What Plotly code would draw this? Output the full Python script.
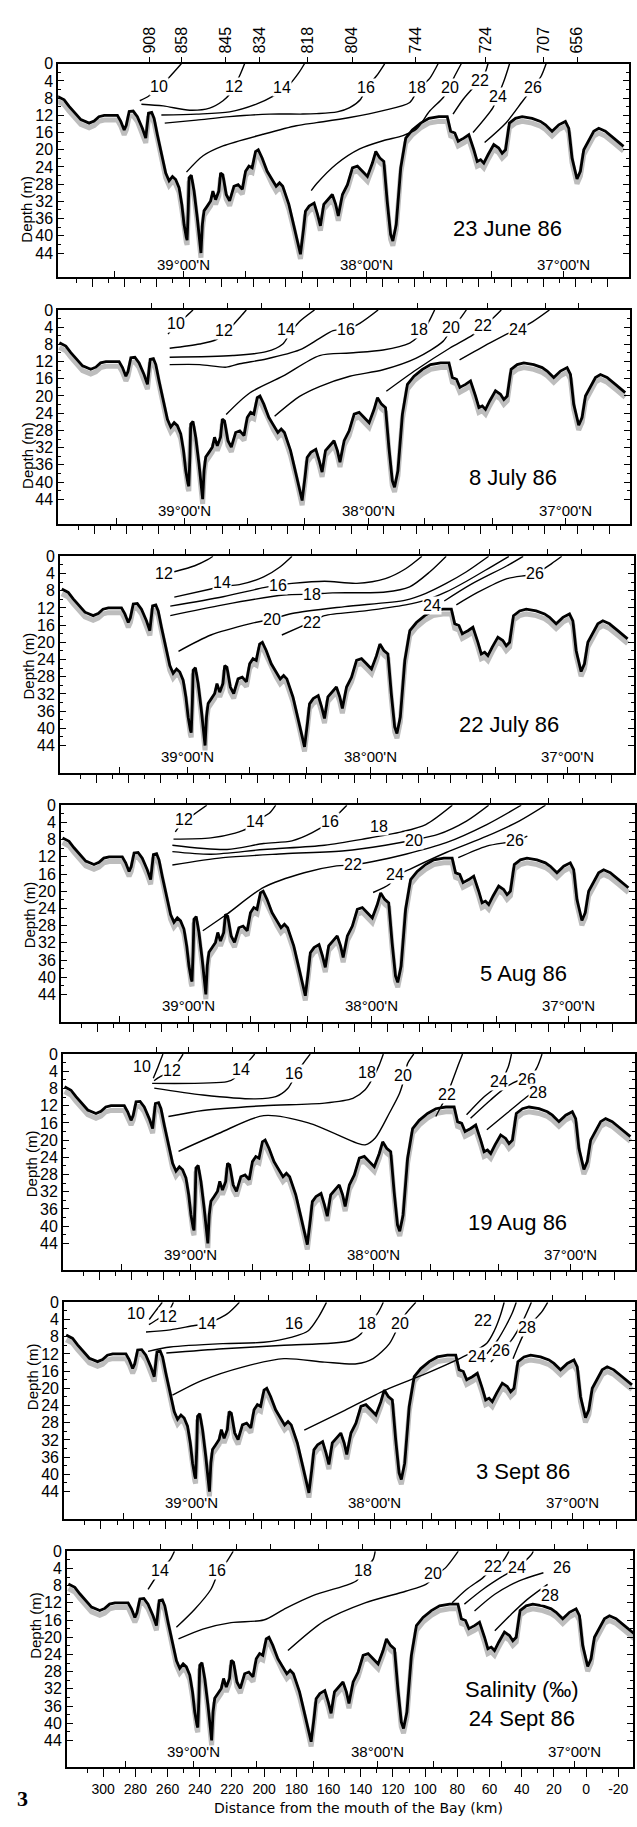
import plotly.graph_objects as go

W, H = 637, 1827

# ---------------- data ----------------
# channel-bottom profile: (distance from mouth km, depth m)
BATHY_PROFILE = [
    (321.6, 7.6), (317.6, 8.4), (314.5, 9.9), (309.3, 12.3), (307.2, 13.0), (302.1, 13.8),
    (299.0, 13.3), (296.0, 12.3), (292.7, 12.0), (284.5, 12.0), (282.4, 13.4), (280.3, 15.4),
    (279.0, 14.3), (277.2, 11.1), (274.7, 11.0), (272.1, 12.3), (269.0, 15.0), (266.9, 17.3),
    (265.2, 11.5), (263.2, 11.3), (261.7, 12.7), (259.7, 16.5), (256.6, 21.9), (254.5, 25.4),
    (252.4, 27.2), (250.3, 26.2), (248.3, 26.9), (246.2, 28.8), (244.5, 32.7), (243.1, 37.4),
    (241.7, 40.4), (241.2, 41.0), (240.5, 34.0), (240.0, 26.5), (238.6, 25.9), (236.9, 29.6),
    (234.9, 35.8), (233.2, 42.0), (232.6, 44.0), (231.7, 37.3), (230.7, 34.2), (228.7, 33.1),
    (226.6, 31.9), (225.2, 29.6), (223.5, 31.6), (221.5, 29.6), (220.4, 25.4), (219.0, 25.8),
    (216.9, 30.4), (214.8, 31.9), (212.1, 28.5), (209.5, 28.1), (206.9, 29.2), (204.9, 25.0),
    (202.8, 23.8), (200.8, 24.2), (198.7, 20.4), (197.0, 20.0), (194.6, 21.9), (191.5, 25.0),
    (188.4, 26.9), (185.9, 28.5), (183.8, 27.7), (181.8, 28.5), (178.0, 32.7), (174.9, 37.4),
    (171.8, 42.7), (170.8, 44.3), (168.9, 38.5), (167.7, 34.3), (165.4, 33.1), (162.3, 32.4),
    (160.2, 35.0), (158.4, 37.7), (156.3, 32.7), (153.0, 31.2), (151.0, 30.4), (148.9, 32.7),
    (147.3, 35.4), (144.7, 30.4), (141.6, 28.1), (138.5, 24.2), (135.4, 23.8), (132.3, 25.0),
    (129.2, 26.2), (126.1, 23.1), (124.0, 20.4), (121.5, 21.9), (119.0, 22.7), (116.9, 32.0),
    (114.8, 39.7), (113.4, 41.2), (111.3, 37.4), (108.5, 24.2), (105.4, 17.3), (101.3, 15.4),
    (96.1, 13.8), (91.0, 12.7), (84.8, 12.3), (79.6, 12.3), (77.5, 15.7), (74.9, 16.1),
    (72.8, 18.0), (69.3, 17.3), (66.2, 16.5), (63.1, 20.0), (61.0, 22.7), (58.9, 22.3),
    (56.9, 23.1), (54.2, 21.1), (50.7, 18.8), (47.6, 19.6), (45.5, 20.8), (43.4, 20.0),
    (41.0, 13.8), (37.2, 12.7), (33.1, 12.3), (26.9, 12.7), (21.7, 13.4), (18.6, 14.2),
    (14.5, 15.7), (10.3, 14.2), (6.2, 13.4), (4.1, 15.0), (2.1, 21.9), (-1.0, 26.8),
    (-3.1, 25.0), (-5.2, 20.0), (-8.3, 17.7), (-11.4, 15.7), (-14.5, 15.0), (-18.6, 15.7),
    (-23.8, 17.3), (-29.9, 19.2),
]

STATION_KM = [264.4, 244.7, 217.3, 196.2, 166.4, 138.7, 99.4, 55.8, 19.6, -1.1]
STATION_LABELS = ["908", "858", "845", "834", "818", "804", "744", "724", "707", "656"]

LATITUDE_TICK_KM = [286.0, 243.6, 205.0, 169.5, 129.8, 94.5, 52.3, 7.3]
LATITUDE_LABEL_KM = [243.6, 129.8, 7.3]
LATITUDE_LABELS = ["39°00'N", "38°00'N", "37°00'N"]

DISTANCE_TICKS = [300, 280, 260, 240, 220, 200, 180, 160, 140, 120, 100, 80, 60, 40, 20, 0, -20]
DISTANCE_TICK_TEXT = ["300", "280", "260", "240", "220", "200", "180", "160", "140", "120",
                      "100", "80", "60", "40", "20", "0", "-20"]
DISTANCE_MINOR = [310, 290, 270, 250, 230, 210, 190, 170, 150, 130, 110, 90, 70, 50, 30, 10, -10]
DEPTH_TICKS = [0, 4, 8, 12, 16, 20, 24, 28, 32, 36, 40, 44]
DEPTH_MINOR = [2, 6, 10, 14, 18, 22, 26, 30, 34, 38, 42]

SURVEY_TITLES = ["23 June 86", "8 July 86", "22 July 86", "5 Aug 86", "19 Aug 86",
                 "3 Sept 86", "Salinity (‰)<br>24 Sept 86"]

# isohalines per survey: (salinity, [(km, depth), ...])
JUNE23 = [
    (10, [(270.6, 8.6), (265, 7.5), (258.6, 5.4), (252, 3.0), (244.8, 0)]),
    (12, [(269.6, 9.4), (256.1, 9.8), (239.6, 10.8), (227.2, 10.3), (218.9, 8.6), (214.8, 7.1),
          (212.3, 5.4), (208.6, 2.8), (205.5, 0)]),
    (14, [(257.2, 11.9), (235.4, 11.7), (214.8, 11.2), (198.2, 9.4), (188, 7.6), (182, 6.0),
          (177.6, 4.8), (172, 2.2), (168.3, 0)]),
    (16, [(255.1, 13.8), (235.4, 13.1), (214.8, 12.3), (190, 11.7), (169.3, 11.7), (160.8, 11.6),
          (148, 11.2), (140.2, 10.2), (133.5, 8.3), (129.8, 5.6), (123.5, 2.8), (118.5, 0)]),
    (18, [(241.6, 25.2), (231.3, 21.4), (218.9, 19.1), (194.1, 16.4), (173.4, 14.4), (160.8, 13.7),
          (140.2, 12.5), (119.5, 10.9), (102.9, 9.0), (98.5, 6.5), (94.5, 4.8), (90.5, 3.4), (85.3, 0)]),
    (20, [(164.1, 29.5), (160.8, 27.9), (148.4, 23.3), (134, 19.8), (119.5, 17.9), (107.1, 16.7),
          (98.8, 15.2), (90.5, 11.0), (82.2, 7.9), (78.1, 5.6), (75.7, 3.4), (70.9, 0)]),
    (22, [(76.0, 11.7), (69.8, 8.3), (64.5, 6.0), (59.5, 4.0), (56, 2.0), (54.3, 0)]),
    (24, [(63.6, 16.0), (51.2, 10.2), (48.1, 7.5), (44.0, 3.6), (40.9, 0)]),
    (26, [(56.4, 18.3), (43.0, 13.7), (32.6, 8.6), (26.4, 5.6), (21.3, 2.9), (18.2, 0)]),
]
JULY8 = [
    (10, [(254.1, 5.6), (249, 3.3), (243, 1.5), (238.6, 0)]),
    (12, [(253.1, 8.9), (234.4, 7.9), (224.1, 6.9), (219, 5.3), (213.8, 3.5), (209, 1.5), (205.5, 0)]),
    (14, [(253.1, 11.0), (213.8, 10.6), (193.1, 9.7), (182.8, 7.9), (178.5, 5.5), (172.4, 2.7), (163.1, 0)]),
    (16, [(253.1, 12.7), (234.4, 12.7), (217.9, 13.3), (209.6, 12.5), (193.1, 11.4), (172.4, 9.3),
          (160, 6.6), (151.5, 4.8), (143.3, 4.5), (135, 3.1), (123.6, 0)]),
    (18, [(218, 24.3), (203.4, 19.3), (182.8, 15.4), (160, 10.6), (141.2, 10.0), (120.5, 9.3),
          (104, 7.7), (99, 6.3), (95, 4.5), (91.5, 2.3), (88.5, 0)]),
    (20, [(187.9, 24.7), (172.4, 20.1), (160, 17.8), (141.2, 15.4), (120.5, 13.9), (99.9, 11.2),
          (83.3, 7.3), (78.1, 4.5), (73, 2.2), (68.8, 0)]),
    (22, [(118.5, 18.9), (99.9, 13.9), (79.2, 8.9), (64.7, 5.8), (58.5, 3.8), (52, 1.8), (47.1, 0)]),
    (24, [(73, 11.6), (54.4, 7.7), (42, 5.3), (36.8, 4.6), (27.5, 2.7), (17.2, 0)]),
]
JULY22 = [
    (12, [(251.7, 3.6), (239, 2.2), (231, 0.8), (227.7, 0)]),
    (14, [(251.7, 9.5), (229, 7.6), (222, 7.0), (211.3, 6.6), (196.2, 4.8), (186.1, 2.5), (178.6, 0)]),
    (16, [(254.2, 11.6), (221.4, 9.4), (196.2, 7.3), (187.4, 6.7), (178.6, 6.3), (158.4, 5.8),
          (138.3, 6.3), (120.6, 5.2), (108, 2.9), (97.9, 0)]),
    (18, [(254.2, 13.8), (221.4, 11.3), (183.6, 9.0), (166, 8.8), (153.4, 8.5), (120.6, 8.3),
          (105.5, 7.1), (92.9, 3.6), (82.8, 0)]),
    (20, [(249.1, 22.1), (229, 18.3), (203.8, 15.6), (191.2, 14.6), (178.6, 13.3), (145.8, 11.7),
          (108, 10.2), (95.4, 8.6), (82.8, 6.3), (70.2, 3.6), (56.4, 0)]),
    (22, [(184.9, 18.3), (173.5, 16.4), (166, 15.2), (158.4, 13.8), (133.2, 12.7), (108, 11.3),
          (95.4, 10.2), (82.8, 8.3), (70.2, 5.8), (55.1, 2.5), (43.8, 0)]),
    (24, [(84, 10.4), (67.7, 6.6), (45, 2.2), (35, 0)]),
    (26, [(76.5, 11.3), (62.7, 8.3), (45, 5.2), (27.4, 4.0), (17.3, 1.7), (11, 0)]),
]
AUG5 = [
    (12, [(251.6, 6.2), (245.9, 3.5), (239.6, 2.0), (232, 0)]),
    (14, [(252.7, 7.9), (229.5, 7.6), (214.4, 6.5), (206.8, 5.4), (201.8, 3.7), (193, 1.8), (189.2, 0)]),
    (16, [(253.4, 9.3), (219.4, 10.3), (196.7, 8.9), (179.1, 8.3), (166.5, 6.4), (155.2, 3.7), (145, 0)]),
    (18, [(253.4, 10.8), (229.5, 11.4), (196.7, 10.3), (158.9, 9.3), (133.7, 7.8), (111.1, 6.2),
          (96, 4.5), (79.5, 0)]),
    (20, [(253.4, 13.9), (221.9, 12.2), (184.1, 11.3), (146.3, 10.6), (121.1, 9.3), (103.5, 8.1),
          (88.4, 6.8), (70.7, 3.7), (56.9, 0)]),
    (22, [(234.5, 29.2), (219.4, 25.3), (196.7, 19.1), (171.5, 15.7), (151.4, 14.1), (141.3, 13.9),
          (128.7, 13.1), (108.5, 11.4), (83.3, 8.7), (58.1, 4.5), (36.7, 0)]),
    (24, [(128.7, 20.3), (118.6, 18.4), (114.8, 16.5), (106, 14.9), (83.3, 11.0), (58.1, 7.2),
          (38, 3.7), (21.6, 0)]),
    (26, [(75.8, 12.2), (58.1, 9.5), (40.5, 8.3), (32.9, 7.2)]),
]
AUG19 = [
    (10, [(266.5, 5.6), (263.4, 2.8), (260.5, 0)]),
    (12, [(266, 6.2), (262, 5.2), (258.5, 4.5), (254.6, 3.6), (250.5, 1.5), (248, 0)]),
    (14, [(267.2, 6.8), (220.6, 6.4), (216.1, 5.6), (213, 3.5), (206.7, 1.4), (203.5, 0)]),
    (16, [(265.9, 7.9), (235.7, 9.5), (203, 10.4), (190.4, 9.9), (183, 8.0), (178.5, 5.2), (174, 2.5), (169, 0)]),
    (18, [(257.1, 14.5), (235.7, 13.1), (197.9, 12.0), (160.1, 11.4), (142.5, 10.3), (134.9, 8.3),
          (130, 5.5), (126.1, 2.5), (123.6, 0)]),
    (20, [(250.8, 22.6), (225.6, 18.4), (197.9, 14.3), (170.2, 16.0), (140, 20.7), (134.9, 21.1),
          (128.6, 19.5), (119.8, 13.7), (113.5, 9.1), (110.5, 5.5), (108.5, 2.2), (104.7, 0)]),
    (22, [(91, 14.5), (87.5, 12.0), (84, 9.5), (80.5, 6.0), (77, 2.5), (74.4, 0)]),
    (24, [(71.9, 14.1), (61.8, 10.2), (54.3, 7.9), (50.5, 6.4), (46, 3.0), (44, 0)]),
    (26, [(69.4, 14.9), (56.8, 10.6), (46.7, 7.5), (40, 6.2), (33, 5.8), (28, 3.0), (25, 0)]),
    (28, [(59.3, 17.6), (46.7, 13.7), (36.7, 10.6), (31, 9.0)]),
]
SEPT3 = [
    (10, [(270, 4.0), (266, 2.0), (261.9, 0)]),
    (12, [(270.2, 5.2), (265, 4.0), (260, 2.8), (257, 1.5), (255, 0)]),
    (14, [(272, 6.9), (256.9, 6.4), (241.8, 5.4), (234.2, 5.0), (221.6, 2.7), (214, 0)]),
    (16, [(270.7, 11.4), (256.9, 10.4), (224.1, 9.6), (198.9, 9.3), (181.3, 8.1), (171.2, 6.6),
          (165, 3.5), (159.9, 0)]),
    (18, [(259.4, 11.8), (224.1, 10.8), (186.3, 10.0), (146, 9.0), (138.4, 7.3), (134.7, 5.0),
          (128.4, 2.7), (124.6, 0)]),
    (20, [(255.6, 21.6), (236.7, 18.1), (211.5, 15.0), (186.3, 13.1), (161.1, 13.9), (141, 14.3),
          (130.9, 13.1), (120.8, 9.6), (114.5, 5.0), (110.7, 2.7), (104.4, 0)]),
    (22, [(173.7, 29.7), (148.5, 25.1), (123.3, 20.4), (98.1, 16.6), (72.9, 12.3), (60.3, 9.5),
          (55.5, 6.5), (52, 3.2), (49.5, 0)]),
    (24, [(60.3, 12.0), (54, 9.0), (48.5, 5.5), (44.5, 2.5), (42, 0)]),
    (26, [(57.8, 13.9), (51.5, 11.2), (45.2, 8.9), (37.7, 4.2), (32.6, 0)]),
    (28, [(44, 13.1), (40, 9.5), (35.1, 5.8), (30, 3.8), (26.3, 2.3), (22.5, 0)]),
]
SEPT24 = [
    (14, [(272.1, 8.9), (264.6, 4.6), (258.3, 1.9), (255.7, 0)]),
    (16, [(254.5, 17.7), (243.1, 13.5), (233.1, 8.9), (228, 4.6), (223, 2.3), (219.2, 0)]),
    (18, [(253.2, 20.4), (238.1, 18.1), (220.5, 16.6), (200.3, 16.0), (187.7, 13.5), (170.1, 10.4),
          (147.4, 7.7), (142.4, 6.8), (138.6, 4.6), (132.3, 1.9), (131, 0)]),
    (20, [(185.2, 23.1), (162.5, 16.2), (137.3, 12.0), (112.1, 9.3), (99.5, 7.7), (93, 5.5),
          (86.9, 3.7), (79.4, 0)]),
    (22, [(83.2, 12), (74.3, 8.9), (64.2, 6.2), (58, 4.0), (51.7, 2.3), (47.9, 0)]),
    (24, [(75.6, 12.3), (64.2, 8.9), (51.7, 5.8), (42.8, 3.9), (34, 0.8), (32.8, 0)]),
    (26, [(69.3, 13.9), (56.7, 10.0), (41.6, 6.9), (26.5, 5.0)]),
    (28, [(56.7, 18.5), (46.6, 14.7), (36.5, 11.2), (23.9, 7.7)]),
]
SURVEYS = [JUNE23, JULY8, JULY22, AUG5, AUG19, SEPT3, SEPT24]

# ---------------- layout / placement (not data) ----------------
LABEL_AT = [
    {10: (258.6, 5.4), 12: (212.3, 5.4), 14: (182.5, 5.6), 16: (130, 5.6), 18: (98.5, 5.6),
     20: (78.1, 5.6), 22: (59.5, 4.0), 24: (48.1, 7.5), 26: (26.4, 5.6)},
    {10: (248.9, 3.1), 12: (219.5, 4.8), 14: (180.7, 4.5), 16: (143.3, 4.5), 18: (98.5, 4.5),
     20: (78.3, 4.0), 22: (58.5, 3.5), 24: (36.8, 4.6)},
    {12: (258, 4.0), 14: (222, 6.2), 16: (187.4, 6.7), 18: (166, 8.8), 20: (191.2, 14.6),
     22: (166, 15.4), 24: (91.6, 11.5), 26: (27.4, 4.0)},
    {12: (245.9, 3.3), 14: (201.8, 3.7), 16: (155.2, 3.7), 18: (124.9, 4.9), 20: (103.5, 8.1),
     22: (141.3, 13.9), 24: (114.8, 16.2), 26: (40.5, 8.3)},
    {10: (273.5, 2.9), 12: (254.6, 3.8), 14: (212, 3.5), 16: (179, 4.5), 18: (134, 4.3),
     20: (111.5, 5.0), 22: (84, 9.5), 24: (51.5, 6.4), 26: (34.5, 5.9), 28: (27.3, 8.9)},
    {10: (278.3, 2.5), 12: (258.5, 3.3), 14: (234.2, 5.0), 16: (180, 5.0), 18: (134.7, 5.0),
     20: (114.5, 5.0), 22: (62.9, 4.2), 24: (66.6, 12.7), 26: (51.5, 11.2), 28: (35.1, 5.8)},
    {14: (264.6, 4.6), 16: (229, 4.6), 18: (138.6, 4.6), 20: (95, 5.2), 22: (58, 3.5),
     24: (42.8, 3.9), 26: (15.1, 3.9), 28: (22.7, 10.4)},
]
TITLE_AT = [(41.9, 38.4), (39.9, 39.0), (43.8, 39.1), (35.5, 39.2), (40.4, 39.2), (37.7, 39.4), (39.9, 35.6)]
LAT_LABEL_DEPTH = 46.6

PANEL_TOP = [56, 303.3, 550.7, 800.7, 1050.7, 1300, 1550]
PANEL_BOTTOM = [270, 518.3, 768.3, 1018.3, 1267.3, 1517.3, 1766.7]
PANEL_LEFT = [58.3, 58.3, 60.1, 61, 63, 64.2, 67]
PANEL_RIGHT = [629.7, 631, 634.5, 635.5, 636, 635.5, 634]
PANEL_ZERO_KM_PX = [576.3, 578, 580.4, 581.2, 583.2, 584.8, 587]
PX_PER_KM = 1.6123
PX_PER_M = 4.32

FONT = "Liberation Sans"

def ref(prefix, n):
    return prefix if n == 1 else f"{prefix}{n}"

def key(prefix, n):
    return f"{prefix}axis" if n == 1 else f"{prefix}axis{n}"

fig = go.Figure()
lay = {}
annotations = []

bathy_km = [p[0] for p in BATHY_PROFILE]
bathy_d = [p[1] for p in BATHY_PROFILE]

for i in range(7):
    n = i + 1
    top, bot = PANEL_TOP[i], PANEL_BOTTOM[i]
    left, right = PANEL_LEFT[i], PANEL_RIGHT[i]
    z = PANEL_ZERO_KM_PX[i]
    xr = [(z - left) / PX_PER_KM, (z - right) / PX_PER_KM]
    yr = [(bot - top) / PX_PER_M, 0]
    xb, yb = ref("x", n), ref("y", n)
    n_lat, n_sta = 7 + n, 14 + n

    lay[key("x", n)] = dict(
        domain=[left / W, right / W], range=xr, anchor=yb,
        showline=True, mirror=True, linecolor="black", linewidth=1.8,
        ticks="outside", tickmode="array", tickvals=DISTANCE_TICKS, ticktext=DISTANCE_TICK_TEXT,
        ticklen=8, tickwidth=1.4, tickcolor="black",
        showticklabels=(n == 7), tickfont=dict(family=FONT, size=14, color="black"),
        minor=dict(tickmode="array", tickvals=DISTANCE_MINOR, ticks="outside", ticklen=4,
                   tickwidth=1.3, tickcolor="black", showgrid=False),
        showgrid=False, zeroline=False, fixedrange=True,
    )
    lay[key("x", n_lat)] = dict(
        overlaying=xb, anchor=yb, side="bottom", range=xr,
        ticks="inside", tickmode="array", tickvals=LATITUDE_TICK_KM, ticklen=6, tickwidth=1.4,
        tickcolor="black", showticklabels=False, showline=False, showgrid=False, zeroline=False,
    )
    lay[key("x", n_sta)] = dict(
        overlaying=xb, anchor=yb, side="top", range=xr,
        ticks="outside", tickmode="array", tickvals=STATION_KM, ticktext=STATION_LABELS,
        ticklen=6, tickwidth=1.4, tickcolor="black", showticklabels=(n == 1), tickangle=-90,
        tickfont=dict(family=FONT, size=16, color="black"),
        showline=False, showgrid=False, zeroline=False,
    )
    lay[key("y", n)] = dict(
        domain=[1 - bot / H, 1 - top / H], range=yr, anchor=xb,
        showline=True, mirror="ticks", linecolor="black", linewidth=1.8,
        ticks="inside", tickmode="array", tickvals=DEPTH_TICKS, ticklen=6, tickwidth=1.4,
        tickcolor="black", tickfont=dict(family=FONT, size=16, color="black"),
        minor=dict(tickmode="array", tickvals=DEPTH_MINOR, ticks="inside", ticklen=3,
                   tickwidth=1, tickcolor="black", showgrid=False),
        showgrid=False, zeroline=False, fixedrange=True,
    )

    # placeholders so overlay axes are drawn
    for extra in (n_lat, n_sta):
        fig.add_trace(go.Scatter(x=[None], y=[None], xaxis=ref("x", extra), yaxis=yb,
                                 mode="markers", showlegend=False, hoverinfo="skip"))

    # bottom shading and profile
    fig.add_trace(go.Scatter(x=bathy_km, y=[d + 1.1 for d in bathy_d], xaxis=xb, yaxis=yb,
                             mode="lines", line=dict(color="#bdbdbd", width=5),
                             showlegend=False, hoverinfo="skip"))
    fig.add_trace(go.Scatter(x=bathy_km, y=bathy_d, xaxis=xb, yaxis=yb, mode="lines",
                             line=dict(color="black", width=2.8), showlegend=False, hoverinfo="skip"))

    # isohalines
    for sal, pts in SURVEYS[i]:
        fig.add_trace(go.Scatter(x=[p[0] for p in pts], y=[p[1] for p in pts], xaxis=xb, yaxis=yb,
                                 mode="lines", line=dict(color="black", width=1.4, shape="spline",
                                                         smoothing=0.8),
                                 showlegend=False, hoverinfo="skip"))
        lx, ly = LABEL_AT[i][sal]
        annotations.append(dict(x=lx, y=ly, xref=xb, yref=yb, text=str(sal), showarrow=False,
                                font=dict(family=FONT, size=16, color="black"),
                                bgcolor="white", borderpad=0))

    # latitude labels
    for lk, lt in zip(LATITUDE_LABEL_KM, LATITUDE_LABELS):
        annotations.append(dict(x=lk, y=LAT_LABEL_DEPTH, xref=xb, yref=yb, text=lt, showarrow=False,
                                font=dict(family=FONT, size=15, color="black")))
    # survey title
    tx, ty = TITLE_AT[i]
    annotations.append(dict(x=tx, y=ty, xref=xb, yref=yb, text=SURVEY_TITLES[i], showarrow=False,
                            font=dict(family=FONT, size=22, color="black")))
    # y axis title
    annotations.append(dict(x=(left - 42) / W, y=1 - (top + 25.5 * PX_PER_M) / H, xref="paper",
                            yref="paper", text="Depth (m)", textangle=-90, showarrow=False,
                            font=dict(family=FONT, size=15, color="black")))

annotations.append(dict(x=359 / W, y=1 - 1818 / H, xref="paper", yref="paper",
                        text="Distance from the mouth of the Bay (km)", showarrow=False,
                        font=dict(family="DejaVu Sans", size=14, color="black")))
annotations.append(dict(x=15 / W, y=1 - 1813 / H, xref="paper", yref="paper", text="<b>3</b>",
                        showarrow=False, font=dict(family="Liberation Serif", size=22, color="black")))

fig.update_layout(
    width=W, height=H, margin=dict(l=0, r=0, t=0, b=0),
    paper_bgcolor="white", plot_bgcolor="white", showlegend=False,
    font=dict(family=FONT, color="black"),
    annotations=annotations, **lay,
)
fig.write_html("out.html")
